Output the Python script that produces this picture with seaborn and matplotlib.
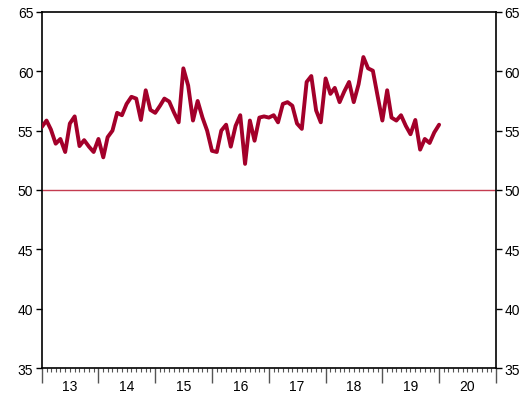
import numpy as np
import pandas as pd
import matplotlib
matplotlib.use("Agg")
import matplotlib.pyplot as plt
import matplotlib.dates as mdates
import seaborn as sns
from datetime import datetime

# ---- data (monthly, Jan 2013 - Jan 2020) ----
dates = pd.date_range("2013-01-01", "2020-01-01", freq="MS")
values = [
    55.3, 55.85, 55.1, 53.9, 54.3, 53.2, 55.6, 56.2, 53.7, 54.2, 53.65, 53.2,   # 2013
    54.3, 52.75, 54.45, 55.0, 56.5, 56.3, 57.25, 57.85, 57.7, 55.9, 58.4, 56.75, # 2014
    56.5, 57.1, 57.7, 57.45, 56.55, 55.7, 60.25, 58.8, 55.85, 57.5, 56.1, 55.0,  # 2015
    53.3, 53.2, 55.0, 55.5, 53.65, 55.4, 56.3, 52.2, 55.85, 54.15, 56.1, 56.2,   # 2016
    56.1, 56.3, 55.7, 57.25, 57.4, 57.1, 55.6, 55.15, 59.1, 59.6, 56.7, 55.7,    # 2017
    59.4, 58.1, 58.6, 57.4, 58.3, 59.1, 57.4, 58.9, 61.2, 60.25, 60.05, 57.95,   # 2018
    55.85, 58.4, 56.1, 55.85, 56.3, 55.4, 54.7, 55.9, 53.4, 54.3, 53.96, 54.85,  # 2019
    55.5,                                                                        # 2020
]
year_labels = ["13", "14", "15", "16", "17", "18", "19", "20"]
years = [2013, 2014, 2015, 2016, 2017, 2018, 2019, 2020]
y_ticks = [35, 40, 45, 50, 55, 60, 65]
ref_level = 50

df = pd.DataFrame({"date": dates, "value": values})

sns.set_theme(style="ticks")
plt.rcParams["font.family"] = ["Liberation Sans", "DejaVu Sans"]

fig = plt.figure(figsize=(5.22, 4.02), dpi=100)
ax = fig.add_axes([0.0799, 0.082, 0.8703, 0.8858])

ax.axhline(ref_level, color="#c43c50", lw=1.0, zorder=1)
sns.lineplot(data=df, x="date", y="value", ax=ax, color="#a3002a", lw=2.8,
             zorder=3, legend=False)

ax.set_xlim(datetime(2013, 1, 1), datetime(2021, 1, 1))
ax.set_ylim(35, 65)
ax.set_yticks(y_ticks)
ax.set_xlabel("")
ax.set_ylabel("")

for s in ax.spines.values():
    s.set_visible(True)
    s.set_color("black")
    s.set_linewidth(1.2)

ax.tick_params(axis="y", which="both", left=True, right=True, labelleft=True,
               labelright=True, direction="out", length=4, width=1,
               labelsize=10, pad=2, colors="black")
ax.xaxis.set_major_locator(mdates.YearLocator())
ax.xaxis.set_minor_locator(mdates.MonthLocator())
ax.tick_params(axis="x", which="major", length=11, width=1, direction="out",
               labelbottom=False, color="#555555")
ax.tick_params(axis="x", which="minor", length=3, width=0.8, direction="out",
               color="#555555")

sec = ax.secondary_xaxis("bottom")
sec.set_xticks([mdates.date2num(datetime(y, 7, 2)) for y in years])
sec.set_xticklabels(year_labels)
sec.tick_params(length=0, pad=8, labelsize=10, colors="black")
sec.spines["bottom"].set_visible(False)

fig.savefig("out.png", dpi=100, facecolor="white")
